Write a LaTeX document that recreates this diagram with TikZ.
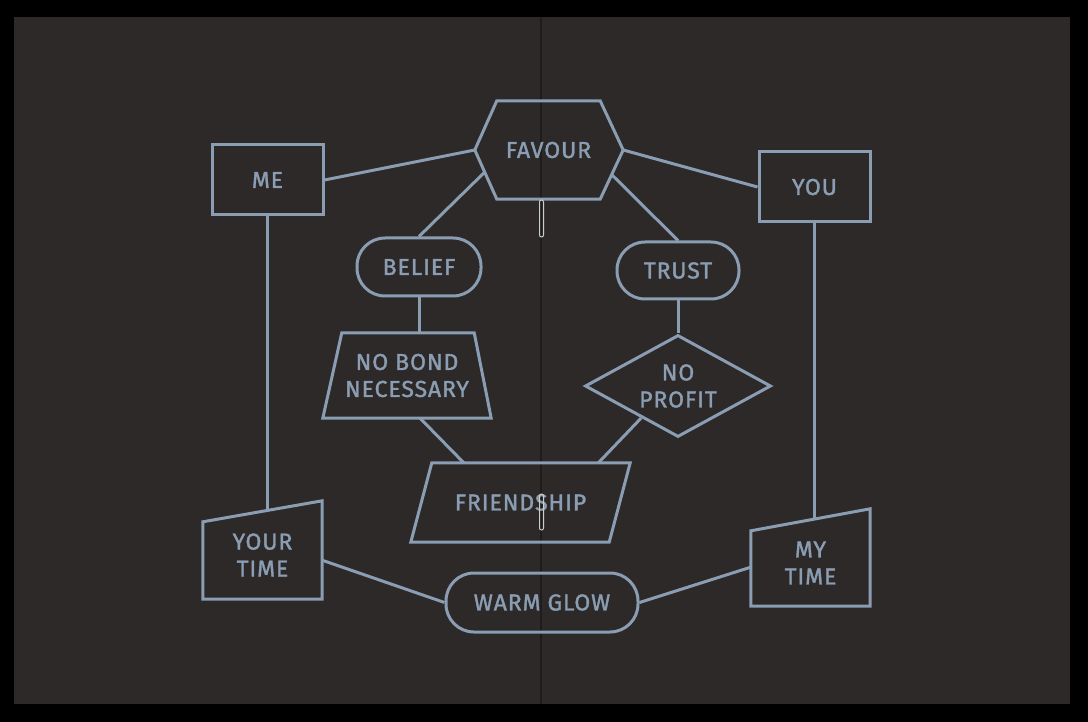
\documentclass[tikz,border=0pt]{standalone}
\usepackage{fontspec}
\setmainfont{Fira Sans}[LetterSpace=4, FakeBold=1.5]
\usetikzlibrary{shapes.geometric,calc}

\definecolor{pagebg}{RGB}{44,41,40}
\definecolor{inkblue}{RGB}{138,157,178}
\definecolor{foldline}{RGB}{30,28,28}
\definecolor{staplegrey}{RGB}{205,205,205}

\begin{document}
\begin{tikzpicture}[x=1pt, y=-1pt,
    ink/.style={draw=inkblue, line width=3pt},
    label text/.style={text=inkblue, font=\fontsize{23}{27}\selectfont, align=center, inner sep=0pt},
    plain box/.style={label text, ink, rectangle},
    pill/.style={plain box, rounded corners=28pt}]

    % --- Page ---
    \fill[black] (0,0) rectangle (1088,722);
    \fill[pagebg] (14,17) rectangle (1070,704);
    \draw[foldline, line width=1.2pt] (541,17) -- (541,704);

    % --- Boxes ---
    \node[plain box, minimum width=111pt, minimum height=70pt] (me) at (267.5,180) {ME};
    \node[plain box, minimum width=111pt, minimum height=70pt] (you) at (814.5,187) {YOU};
    \node[label text, minimum width=103pt, minimum height=98pt] (favour) at (548.5,150) {FAVOUR};
    \node[pill, minimum width=124pt, minimum height=58pt] (belief) at (419,267) {BELIEF};
    \node[pill, minimum width=122pt, minimum height=57pt] (trust) at (678,270.5) {TRUST};
    \node[label text, minimum width=168pt, minimum height=85pt] (nobond) at (407,375.5) {NO BOND\\NECESSARY};
    \node[label text, ink, diamond, aspect=2, minimum width=186pt, minimum height=102pt] (noprofit) at (678,386) {NO\\PROFIT};
    \node[label text, minimum width=219pt, minimum height=79pt] (friendship) at (520.5,502.5) {FRIENDSHIP};
    \node[label text, minimum width=119pt, minimum height=88pt] (yourtime) at (262.5,555) {YOUR\\TIME};
    \node[label text, minimum width=119pt, minimum height=86pt] (mytime) at (810.5,563) {MY\\TIME};
    \node[pill, minimum width=192pt, minimum height=59pt] (warmglow) at (542,602.5) {WARM GLOW};

    % --- Hexagon round FAVOUR ---
    \coordinate (favour w) at ([xshift=-22pt]favour.west);
    \coordinate (favour e) at ([xshift=23pt]favour.east);
    \draw[ink] (favour.north west) -- (favour.north east) -- (favour e) -- (favour.south east)
        -- (favour.south west) -- (favour w) -- cycle;
    \coordinate (favour sw) at ($(favour.south west)!0.55!(favour w)$);
    \coordinate (favour se) at ($(favour.south east)!0.5!(favour e)$);

    % --- Trapezoid and parallelogram ---
    \draw[ink] (nobond.south west) -- ([xshift=19pt]nobond.north west)
        -- ([xshift=-17pt]nobond.north east) -- (nobond.south east) -- cycle;
    \draw[ink] (friendship.south west) -- ([xshift=21pt]friendship.north west)
        -- (friendship.north east) -- ([xshift=-21pt]friendship.south east) -- cycle;

    % --- Slanted tops ---
    \coordinate (yt nw) at ([yshift=-11pt]yourtime.north west);
    \coordinate (yt ne) at ([yshift=10pt]yourtime.north east);
    \draw[ink] (yourtime.south west) -- (yt nw) -- (yt ne) -- (yourtime.south east) -- cycle;
    \coordinate (yt top) at ($(yt nw)!0.54!(yt ne)$);

    \coordinate (mt nw) at ([yshift=-11pt]mytime.north west);
    \coordinate (mt ne) at ([yshift=11pt]mytime.north east);
    \draw[ink] (mytime.south west) -- (mt nw) -- (mt ne) -- (mytime.south east) -- cycle;
    \coordinate (mt top) at ($(mt nw)!0.534!(mt ne)$);

    % --- Connectors ---
    \draw[ink] (me.east) -- (favour w);
    \draw[ink] (favour e) -- (you.west);
    \draw[ink] (favour sw) -- (belief.north);
    \draw[ink] (favour se) -- (trust.north);
    \draw[ink] (belief.south) -- (belief.south |- nobond.north);
    \draw[ink] (trust.south) -- (noprofit.north);
    \draw[ink] (nobond.287) -- (friendship.145);
    \draw[ink] (noprofit.221) -- (friendship.27);
    \draw[ink] (me.south) -- (me.south |- yt top);
    \draw[ink] (you.south) -- (you.south |- mt top);
    \draw[ink] (yourtime.-5) -- (warmglow.west);
    \draw[ink] (warmglow.east) -- (mytime.184);

    % --- Staples in the fold ---
    \draw[staplegrey, line width=1pt, rounded corners=2pt] (539.5,200) rectangle (543.5,237);
    \draw[staplegrey, line width=1pt, rounded corners=2pt] (539.5,494) rectangle (543.5,530);

\end{tikzpicture}
\end{document}
